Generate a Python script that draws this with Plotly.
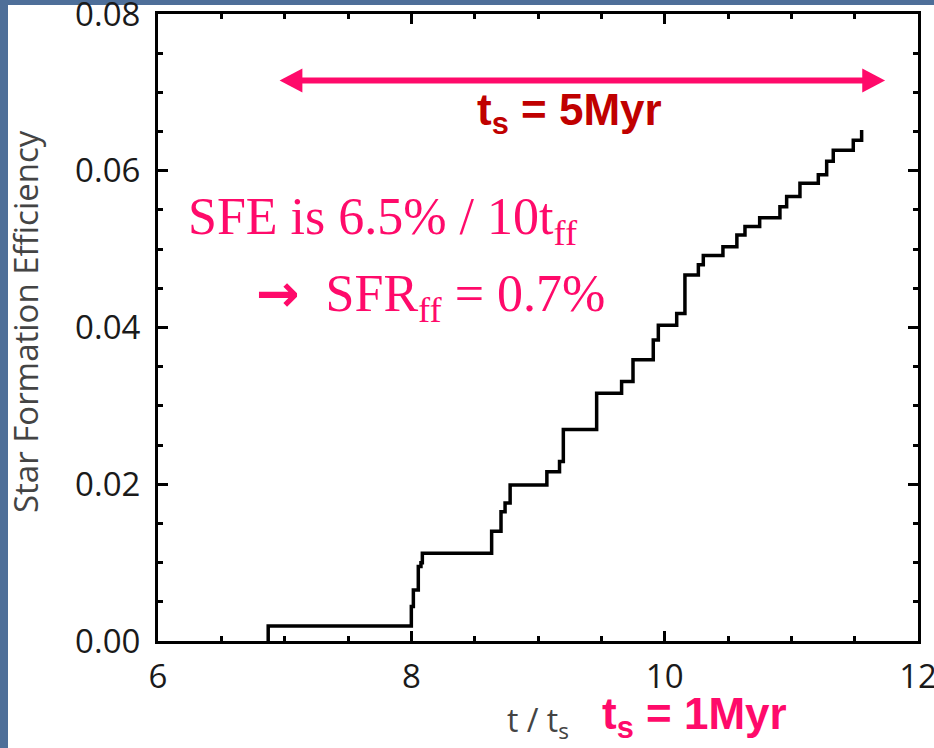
import plotly.graph_objects as go

# ---- data ----
t_steps = [6.87, 6.87, 8.00, 8.016, 8.055, 8.076, 8.087, 8.634, 8.708, 8.74, 8.78,
           9.07, 9.17, 9.20, 9.463, 9.66, 9.75, 9.91, 9.95, 10.095, 10.16, 10.266,
           10.305, 10.46, 10.57, 10.634, 10.75, 10.91, 10.963, 11.068, 11.213,
           11.279, 11.331, 11.489, 11.555]
sfe = [0.0, 0.0019, 0.0044, 0.0065, 0.0095, 0.0100, 0.0112, 0.0140, 0.0165, 0.0176,
       0.0199, 0.0216, 0.0229, 0.0270, 0.0316, 0.0331, 0.0359, 0.0384, 0.0403,
       0.0418, 0.0467, 0.0480, 0.0492, 0.0503, 0.0518, 0.0529, 0.0540, 0.0554,
       0.0567, 0.0584, 0.0595, 0.0612, 0.0626, 0.0639, 0.0652]

x_ticks = [6, 8, 10, 12]
y_ticks = [0.00, 0.02, 0.04, 0.06, 0.08]
y_tick_labels = ["0.00", "0.02", "0.04", "0.06", "0.08"]

x_range = [6, 12]
y_range = [0, 0.08]
arrow_x = [6.96, 11.74]   # span of the t_s = 5Myr arrow (data x)

PINK = "#FF0A6A"
DARKRED = "#C00000"
BLUE = "#4E6F99"

W, H = 934, 748
L, R, T, B = 158, 16, 14, 107
PW, PH = W - L - R, H - T - B


def px(x):
    return (x - L) / PW


def py(y):
    return (H - B - y) / PH


fig = go.Figure()
fig.add_trace(go.Scatter(x=t_steps, y=sfe, mode="lines", line_shape="hv",
                         line=dict(color="black", width=3.5), showlegend=False,
                         hoverinfo="skip"))
# invisible trace carrying the mirrored (top/right) axes
fig.add_trace(go.Scatter(x=[t_steps[0]], y=[sfe[0]], xaxis="x2", yaxis="y2",
                         mode="markers", marker=dict(opacity=0), showlegend=False,
                         hoverinfo="skip"))

tick_common = dict(ticks="inside", tickwidth=3, ticklen=10, tickcolor="black",
                   showgrid=False, zeroline=False, automargin=False)

fig.update_layout(
    xaxis=dict(range=x_range, tickvals=x_ticks, showline=True, linecolor="black",
               linewidth=3, mirror=True, ticklabeloverflow="allow",
               tickfont=dict(family="Open Sans", size=33, color="#1a1a1a"),
               minor=dict(dtick=0.5, ticks="inside", ticklen=5, tickwidth=3,
                          tickcolor="black"),
               ticklabelstandoff=4, **tick_common),
    yaxis=dict(range=y_range, tickvals=y_ticks, ticktext=y_tick_labels,
               showline=True, linecolor="black", linewidth=3, mirror=True,
               ticklabeloverflow="allow",
               tickfont=dict(family="Open Sans", size=33, color="#1a1a1a"),
               minor=dict(dtick=0.005, ticks="inside", ticklen=5, tickwidth=3,
                          tickcolor="black"),
               ticklabelstandoff=8, **tick_common),
    xaxis2=dict(range=x_range, tickvals=x_ticks, overlaying="x", side="top",
                anchor="y", showticklabels=False, showline=False,
                minor=dict(dtick=0.5, ticks="inside", ticklen=5, tickwidth=3,
                           tickcolor="black"), **tick_common),
    yaxis2=dict(range=y_range, tickvals=y_ticks, overlaying="y", side="right",
                anchor="x", showticklabels=False, showline=False,
                minor=dict(dtick=0.005, ticks="inside", ticklen=5, tickwidth=3,
                           tickcolor="black"), **tick_common),
)

# double-headed arrow
ay = py(80.5)
head_len = 0.18
head_h = 12 / PH
fig.add_shape(type="line", xref="x", yref="paper", x0=arrow_x[0] + head_len * 0.8,
              x1=arrow_x[1] - head_len * 0.8, y0=ay, y1=ay,
              line=dict(color=PINK, width=6))
for tip, sgn in [(arrow_x[0], 1), (arrow_x[1], -1)]:
    base = tip + sgn * head_len
    fig.add_shape(type="path", xref="x", yref="paper",
                  path=f"M {tip},{ay} L {base},{ay + head_h} L {base},{ay - head_h} Z",
                  fillcolor=PINK, line=dict(color=PINK, width=0))

# slide background strips
fig.add_shape(type="rect", xref="paper", yref="paper", x0=px(0), x1=px(8),
              y0=py(H), y1=py(0), fillcolor=BLUE, line=dict(width=0), layer="below")
fig.add_shape(type="rect", xref="paper", yref="paper", x0=px(0), x1=px(W),
              y0=py(5), y1=py(0), fillcolor=BLUE, line=dict(width=0), layer="below")

ann = []
ann.append(dict(text="Star Formation Efficiency", xref="paper", yref="paper",
                x=px(25), y=py(322), xanchor="center", yanchor="middle",
                textangle=-90, showarrow=False,
                font=dict(family="Open Sans", size=33, color="#444444")))
ann.append(dict(text="t / t<sub>s</sub>", xref="paper", yref="paper",
                x=px(538), y=py(722), xanchor="center", yanchor="middle",
                showarrow=False,
                font=dict(family="Open Sans", size=32, color="#444444")))
ann.append(dict(text="<b>t<sub>s</sub> = 1Myr</b>", xref="paper", yref="paper",
                x=px(694), y=py(717), xanchor="center", yanchor="middle",
                showarrow=False,
                font=dict(family="Liberation Sans", size=44, color=PINK)))
ann.append(dict(text="<b>t<sub>s</sub> = 5Myr</b>", xref="paper", yref="paper",
                x=px(569), y=py(113), xanchor="center", yanchor="middle",
                showarrow=False,
                font=dict(family="Liberation Sans", size=44, color=DARKRED)))
ann.append(dict(text="SFE is 6.5% / 10t<sub>ff</sub>", xref="paper", yref="paper",
                x=px(186), y=py(220), xanchor="left", yanchor="middle",
                showarrow=False,
                font=dict(family="Liberation Serif", size=52, color=PINK)))
ann.append(dict(text="<span style=\"font-family:'DejaVu Sans'\"><b>→</b></span>  SFR<sub>ff</sub> = 0.7%",
                xref="paper", yref="paper",
                x=px(254), y=py(297), xanchor="left", yanchor="middle",
                showarrow=False,
                font=dict(family="Liberation Serif", size=52, color=PINK)))

fig.update_layout(width=W, height=H, margin=dict(l=L, r=R, t=T, b=B, autoexpand=False),
                  paper_bgcolor="white", plot_bgcolor="white",
                  annotations=ann, showlegend=False)

fig.write_html("out.html")
